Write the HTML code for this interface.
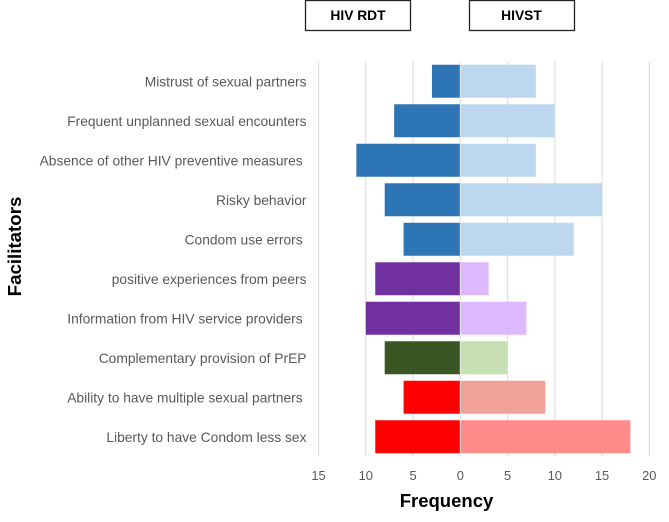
<!DOCTYPE html>
<html lang="en">
<head>
<meta charset="utf-8">
<title>Facilitators by frequency</title>
<style>
  html, body { margin: 0; padding: 0; background: #fff; }
  body { width: 669px; height: 522px; overflow: hidden; }
  svg { display: block; font-family: "Liberation Sans", sans-serif; }
  .cat { font-size: 13.8px; fill: #595959; white-space: pre; }
  .tick { font-size: 12.9px; fill: #595959; }
</style>
</head>
<body>
<svg id="chart" xmlns="http://www.w3.org/2000/svg" width="669" height="522" viewBox="0 0 669 522">
  <rect x="0" y="0" width="669" height="522" fill="#ffffff"/>
  <g id="grid"></g>
  <g id="bars"></g>
  <g id="cats"></g>
  <g id="ticks"></g>
  <rect x="305.5" y="0.5" width="105" height="30" fill="#fff" stroke="#222" stroke-width="1.3"/>
  <text x="358" y="20" text-anchor="middle" font-size="13.8" font-weight="700" fill="#000">HIV RDT</text>
  <rect x="469.5" y="0.5" width="105" height="30" fill="#fff" stroke="#222" stroke-width="1.3"/>
  <text x="521.5" y="20" text-anchor="middle" font-size="13.8" font-weight="700" fill="#000">HIVST</text>
  <text x="446.5" y="507" text-anchor="middle" font-size="18.5" font-weight="700" fill="#000">Frequency</text>
  <text transform="translate(21 246.5) rotate(-90)" text-anchor="middle" font-size="18.7" font-weight="700" fill="#000">Facilitators</text>
</svg>
<script>
const categories = [
  "Mistrust of sexual partners",
  "Frequent unplanned sexual encounters",
  "Absence of other HIV preventive measures ",
  "Risky behavior",
  "Condom use errors ",
  "positive experiences from peers",
  "Information from HIV service providers ",
  "Complementary provision of PrEP",
  "Ability to have multiple sexual partners ",
  "Liberty to have Condom less sex"
];
const hivRdtValues = [3, 7, 11, 8, 6, 9, 10, 8, 6, 9];
const hivstValues = [8, 10, 8, 15, 12, 3, 7, 5, 9, 18];
const tickValues = [-15, -10, -5, 0, 5, 10, 15, 20];

const rdtColors = ["#2E75B6", "#2E75B6", "#2E75B6", "#2E75B6", "#2E75B6", "#7030A0", "#7030A0", "#3A5723", "#FF0000", "#FF0000"];
const hivstColors = ["#BDD7EE", "#BDD7EE", "#BDD7EE", "#BDD7EE", "#BDD7EE", "#DDB8FC", "#DDB8FC", "#C6E0B4", "#F1A298", "#FF8B8B"];

const NS = "http://www.w3.org/2000/svg";
const plotTop = 61.5, bandHeight = 39.5, barHeight = 33;
const zeroX = 460.3, unitWidth = 9.45;
const xScale = v => zeroX + v * unitWidth;
const yBand = i => plotTop + i * bandHeight;

function make(tag, attrs, parent) {
  const el = document.createElementNS(NS, tag);
  for (const k in attrs) el.setAttribute(k, attrs[k]);
  parent.appendChild(el);
  return el;
}

const gridG = document.getElementById("grid");
const barsG = document.getElementById("bars");
const catsG = document.getElementById("cats");
const ticksG = document.getElementById("ticks");
const plotBottom = yBand(categories.length);

tickValues.forEach(t => {
  const x = xScale(t);
  const line = make("line", { x1: x, x2: x, y1: plotTop, y2: plotBottom, stroke: "#E0E0E0", "stroke-width": 1.2 }, gridG);
  
  
  const label = make("text", { x: x, y: 480, "text-anchor": "middle", class: "tick" }, ticksG);
  
  
  label.textContent = String(Math.abs(t));
});

categories.forEach((name, i) => {
  const top = yBand(i) + (bandHeight - barHeight) / 2;
  const left = make("rect", { x: xScale(-hivRdtValues[i]), y: top, width: xScale(0) - xScale(-hivRdtValues[i]), height: barHeight, fill: rdtColors[i] }, barsG);
  
  
  const right = make("rect", { x: xScale(0), y: top, width: xScale(hivstValues[i]) - xScale(0), height: barHeight, fill: hivstColors[i] }, barsG);
  
  
  const label = make("text", { x: 306.5, y: yBand(i) + bandHeight / 2 + 5, "text-anchor": "end", class: "cat" }, catsG);
  
  
  label.textContent = name;
});

const zeroLine = make("line", { x1: zeroX, x2: zeroX, y1: plotTop, y2: plotBottom, stroke: "#E4E4E4", "stroke-width": 1 }, barsG);


</script>
</body>
</html>
